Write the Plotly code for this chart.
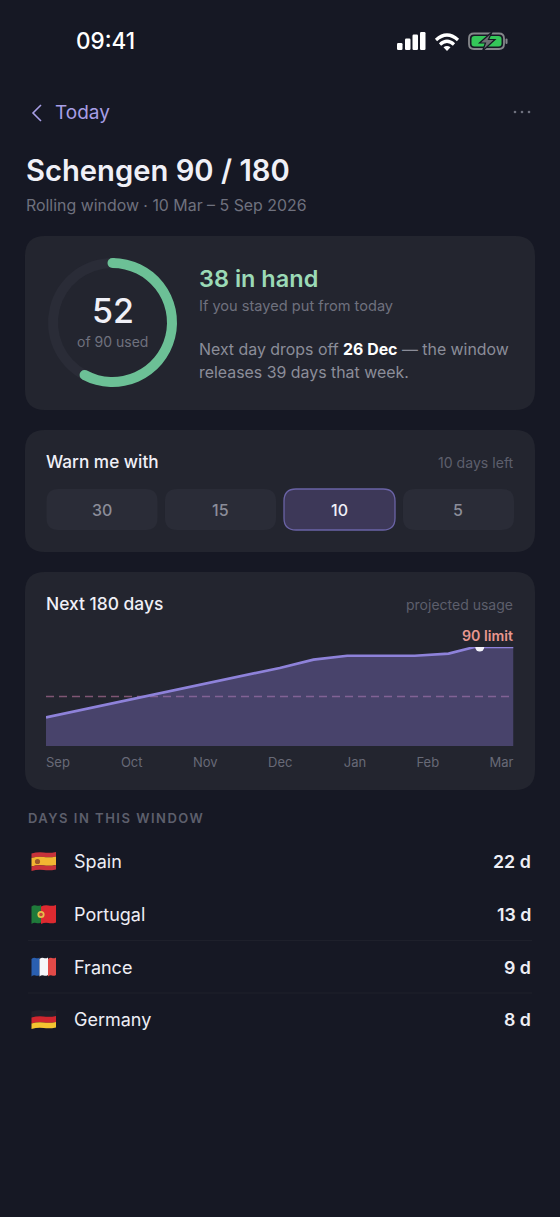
import math
import plotly.graph_objects as go

W = 560
H = 1217

# chart values
days = [0, 90, 103, 116, 142, 155, 165, 180]
usage = [26, 71, 78.5, 82, 82, 84, 90, 90]
limit_day = 167
limit = 90
warn_line = 45
month_days = [4.6, 33, 61.3, 90.2, 119, 147, 175.4]
month_labels = ["Sep", "Oct", "Nov", "Dec", "Jan", "Feb", "Mar"]

# ring and list
used = 52
left = 38
warn_options = ["30", "15", "10", "5"]
warn_selected = "10"
countries = ["Spain", "Portugal", "France", "Germany"]
country_days = [22, 13, 9, 8]

BG = "#161824"
CARD = "#23252f"
MUTED = "#6f717e"
FONT = "Inter"


def fx(x):
    return x / W


def fy(y):
    return 1 - y / H


def to_path(cmds):
    out = []
    for c in cmds:
        nums = c[1:]
        pts = []
        for i in range(0, len(nums), 2):
            pts.append(f"{fx(nums[i]):.5f},{fy(nums[i + 1]):.5f}")
        out.append(c[0] + " ".join(pts))
    return " ".join(out)


def round_rect(x0, y0, x1, y1, r):
    return to_path([
        ("M", x0 + r, y0), ("L", x1 - r, y0), ("Q", x1, y0, x1, y0 + r),
        ("L", x1, y1 - r), ("Q", x1, y1, x1 - r, y1), ("L", x0 + r, y1),
        ("Q", x0, y1, x0, y1 - r), ("L", x0, y0 + r), ("Q", x0, y0, x0 + r, y0),
    ]) + " Z"


shapes = []
notes = []


def box(x0, y0, x1, y1, r, fill, line=None, lw=0, layer="below"):
    shapes.append(dict(type="path", path=round_rect(x0, y0, x1, y1, r), xref="paper", yref="paper",
                       fillcolor=fill, line=dict(color=line or fill, width=lw), layer=layer))


def poly(cmds, fill="rgba(0,0,0,0)", line=None, lw=0, layer="above", close=True):
    path = to_path(cmds) + (" Z" if close else "")
    shapes.append(dict(type="path", path=path, xref="paper", yref="paper", fillcolor=fill,
                       line=dict(color=line or "rgba(0,0,0,0)", width=lw), layer=layer))


def dot(cx, cy, r, fill, layer="above"):
    shapes.append(dict(type="circle", xref="paper", yref="paper", x0=fx(cx - r), x1=fx(cx + r),
                       y0=fy(cy - r), y1=fy(cy + r), fillcolor=fill, line=dict(width=0), layer=layer))


def text(x, y, s, size, color, anchor="left", weight=400):
    notes.append(dict(x=fx(x), y=fy(y), xref="paper", yref="paper", text=s, showarrow=False,
                      xanchor=anchor, yanchor="middle", align=anchor,
                      font=dict(family=FONT, size=size, color=color, weight=weight),
                      borderpad=0, borderwidth=0))


# status bar
text(76.5, 41, "09:41", 22.5, "#ffffff", weight=500)
for bx, top in zip([397, 405, 412.5, 420], [43, 38.5, 34.5, 32]):
    box(bx, top, bx + 5.5, 50, 1.2, "#ffffff", layer="above")
poly([("M", 436, 40), ("Q", 447, 30, 458, 40)], line="#ffffff", lw=3.2, close=False)
poly([("M", 440, 44.5), ("Q", 447, 38, 454, 44.5)], line="#ffffff", lw=3.2, close=False)
poly([("M", 443.5, 47.2), ("Q", 447, 45, 450.5, 47.2), ("L", 447, 51)], fill="#ffffff")
box(469, 33.5, 504, 49, 5, BG, line="#85878b", lw=1.8, layer="above")
box(471.5, 36, 501.5, 46.5, 3, "#34c759", layer="above")
box(505.5, 38.5, 507.5, 44, 1, "#85878b", layer="above")
poly([("M", 492, 32), ("L", 479.5, 43), ("L", 485.5, 43), ("L", 482.5, 51), ("L", 495, 39.5), ("L", 488.5, 39.5)],
     fill="#6e7074", line=BG, lw=1.2)

# header
poly([("M", 41, 105), ("L", 33, 113), ("L", 41, 121)], line="#a89fe6", lw=1.6, close=False)
text(55, 113, "Today", 19, "#a89fe6")
for dx in [515, 522, 529]:
    dot(dx, 112, 1.3, "#6f717e")
text(26, 170, "Schengen 90 / 180", 29.2, "#f0f0f7", weight=600)
text(26, 205, "Rolling window · 10 Mar – 5 Sep 2026", 15.9, MUTED)

# summary card
box(25, 236, 535, 410, 20, CARD)
ring_cx, ring_cy, ring_r = 112.5, 322.5, 64.5
mid_r = ring_r - 5
end_a = 2 * math.pi * used / (used + left)
dot(ring_cx, ring_cy - mid_r, 5, "#6cc096")
dot(ring_cx + mid_r * math.sin(end_a), ring_cy - mid_r * math.cos(end_a), 5, "#6cc096")
text(112.5, 310, str(used), 34, "#f0f0f7", anchor="center", weight=500)
text(112, 341, "of 90 used", 14, MUTED, anchor="center")
text(199, 278, f"{left} in hand", 23.5, "#9bdab6", weight=600)
text(199, 306.5, "If you stayed put from today", 14.6, MUTED)
text(199, 349, "Next day drops off <span style=\"color:#ffffff\"><b>26 Dec</b></span> — the window", 15.9, "#8b8d99")
text(199, 372, "releases 39 days that week.", 15.9, "#8b8d99")

# warn card
box(25, 430, 535, 552, 20, CARD)
text(46, 462, "Warn me with", 17.2, "#f0f0f7", weight=500)
text(514, 462.5, "10 days left", 14.1, "#5d5f6c", anchor="right")
btn_x = [46.5, 165, 284, 403]
for bx, label in zip(btn_x, warn_options):
    on = label == warn_selected
    box(bx, 489, bx + 111, 530, 12, "#3d3858" if on else "#2a2c37",
        line="#6a63a6" if on else None, lw=1.3 if on else 0)
    text(bx + 55, 510, label, 16, "#f0f0f7" if on else "#8b8d99", anchor="center", weight=500)

# chart card
box(25, 572, 535, 790, 20, CARD)
text(46, 603.5, "Next 180 days", 17.4, "#f0f0f7", weight=500)
text(513, 604, "projected usage", 14, "#5d5f6c", anchor="right")
text(513, 635.5, "90 limit", 14.2, "#e8978f", anchor="right", weight=600)

# list
text(28, 818, "DAYS IN THIS WINDOW", 13, "#5d5f6c", weight=600)
row_y = [861.5, 914.5, 967, 1019.5]


def wave_band(x0, x1, y0, y1, color):
    # one slightly waving strip of a flag
    mid = (x0 + x1) / 2
    poly([("M", x0, y0 + 1), ("Q", (x0 + mid) / 2, y0 - 0.8, mid, y0), ("Q", (mid + x1) / 2, y0 + 0.8, x1, y0 - 0.6),
          ("L", x1, y1 - 0.6), ("Q", (mid + x1) / 2, y1 + 0.8, mid, y1), ("Q", (x0 + mid) / 2, y1 - 0.8, x0, y1 + 1)],
         fill=color)


flag_l, flag_r = 31.5, 56
wave_band(flag_l, flag_r, 852.5, 857, "#c8323a")
wave_band(flag_l, flag_r, 857, 865.5, "#f2b632")
wave_band(flag_l, flag_r, 865.5, 870, "#c8323a")
dot(37.5, 861.5, 2.6, "#9c5a2a")
wave_band(flag_l, 41, 905.5, 923, "#1f7a3a")
wave_band(41, flag_r, 905.5, 923, "#dd2a30")
dot(41, 914.5, 3.6, "#e6c04a")
dot(41, 914.5, 1.8, "#c8443a")
wave_band(flag_l, 39.5, 958, 975.5, "#2a5fb0")
wave_band(39.5, 48, 958, 975.5, "#f5f6fa")
wave_band(48, flag_r, 958, 975.5, "#e24a48")
wave_band(flag_l, flag_r, 1010.5, 1016.5, "#20202a")
wave_band(flag_l, flag_r, 1016.5, 1022.5, "#d0262e")
wave_band(flag_l, flag_r, 1022.5, 1028, "#f4c430")

for name, d, y in zip(countries, country_days, row_y):
    text(74, y, name, 18, "#eeeef5")
    text(531, y, f"{d} d", 17.8, "#eeeef5", anchor="right", weight=600)
for y in [940.5, 993]:
    shapes.append(dict(type="line", xref="paper", yref="paper", x0=fx(28), x1=fx(532), y0=fy(y), y1=fy(y),
                       line=dict(color="#1e202b", width=1), layer="below"))

fig = go.Figure()
fig.add_trace(go.Pie(
    values=[used, left], sort=False, direction="clockwise", rotation=0, hole=54.5 / 64.5,
    marker=dict(colors=["#6cc096", "#2a2c37"], line=dict(width=0)),
    textinfo="none", hoverinfo="skip", showlegend=False,
    domain=dict(x=[fx(ring_cx - ring_r), fx(ring_cx + ring_r)], y=[fy(ring_cy + ring_r), fy(ring_cy - ring_r)]),
))
fig.add_trace(go.Scatter(
    x=[0, 180], y=[warn_line, warn_line], mode="lines", hoverinfo="skip", showlegend=False,
    line=dict(color="#7f5673", width=1.3, dash="8px,5px"),
))
fig.add_trace(go.Scatter(
    x=days, y=usage, mode="lines", fill="tozeroy", fillcolor="rgba(134,118,206,0.38)",
    hoverinfo="skip", showlegend=False, line=dict(color="#8e82da", width=2.6),
))
fig.add_trace(go.Scatter(
    x=[limit_day], y=[limit], mode="markers", hoverinfo="skip", showlegend=False,
    marker=dict(color="#f3f2fa", size=9, line=dict(width=0)),
))

fig.update_layout(
    width=W, height=H, margin=dict(l=0, r=0, t=0, b=0), autosize=False,
    paper_bgcolor=BG, plot_bgcolor="rgba(0,0,0,0)", showlegend=False, hovermode=False,
    shapes=shapes, annotations=notes,
    xaxis=dict(domain=[fx(46), fx(513.5)], range=[0, 180], showgrid=False, zeroline=False, showline=False,
               tickmode="array", tickvals=month_days, ticktext=month_labels, ticks="outside", ticklen=4,
               tickcolor="rgba(0,0,0,0)", tickfont=dict(family=FONT, size=13, color="#686a77")),
    yaxis=dict(domain=[fy(746), fy(647)], range=[0, limit], showgrid=False, zeroline=False, showline=False,
               showticklabels=False, ticks=""),
)

# section heading is letter-spaced in the design, plotly has no option for it
spacing_js = """
document.body.style.margin='0';
document.body.style.background='#161824';
document.querySelectorAll('.annotation-text').forEach(function(t){
  if(t.textContent.indexOf('DAYS IN')===0){t.style.letterSpacing='1.5px';}
});
"""
fig.write_html("out.html", config=dict(displayModeBar=False, staticPlot=True), post_script=spacing_js)
